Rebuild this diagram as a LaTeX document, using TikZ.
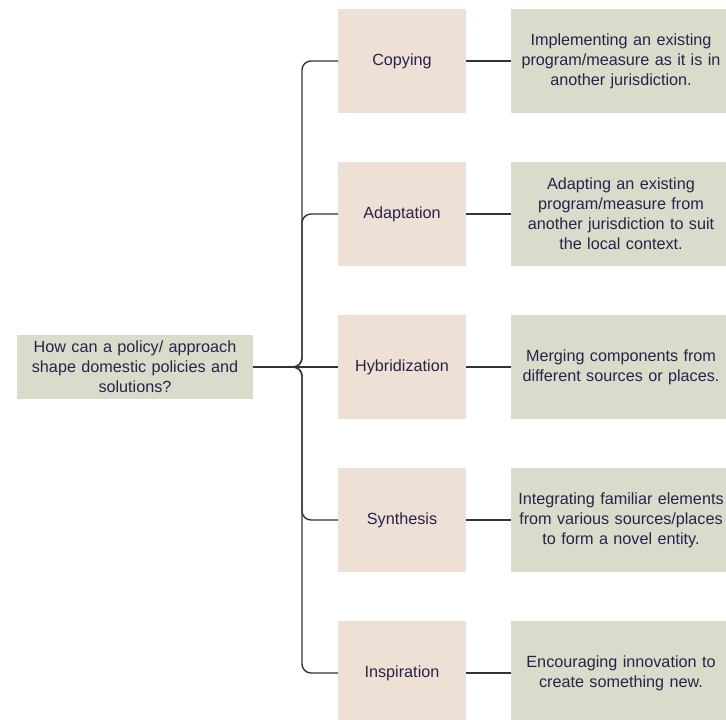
\documentclass[tikz,border=0pt]{standalone}
\usepackage{fontspec}
\setmainfont{Liberation Sans}
\definecolor{methodfill}{HTML}{EFE0D6}
\definecolor{notefill}{HTML}{DBDBCB}
\definecolor{inktext}{HTML}{25244A}
\definecolor{linkgray}{HTML}{333333}
\begin{document}
\begin{tikzpicture}[x=1pt,y=-1pt,
  base/.style={inner sep=0pt, outer sep=0pt, align=center, text=inktext,
    font=\fontsize{16.2}{20}\selectfont},
  rootbox/.style={base, fill=notefill, minimum width=236pt, minimum height=64pt, text width=232pt},
  methodbox/.style={base, fill=methodfill, minimum width=128pt, minimum height=104pt, text width=124pt},
  notebox/.style={base, fill=notefill, minimum width=220pt, minimum height=104pt, text width=216pt},
  link/.style={draw=linkgray, line width=1.4pt, rounded corners=9pt}]
\useasboundingbox (0,0) rectangle (726,720);
\clip (0,0) rectangle (726,720);

\node[rootbox] (root) at (135,367) {How can a policy/ approach\\shape domestic policies and\\solutions?};

\node[methodbox] (copy) at (402,61)  {Copying};
\node[methodbox] (adapt) at (402,214) {Adaptation};
\node[methodbox] (hybrid) at (402,367) {Hybridization};
\node[methodbox] (synth) at (402,520) {Synthesis};
\node[methodbox] (insp) at (402,673) {Inspiration};

\node[notebox] (ncopy) at (621,61)  {Implementing an existing\\program/measure as it is in\\another jurisdiction.};
\node[notebox] (nadapt) at (621,214) {Adapting an existing\\program/measure from\\another jurisdiction to suit\\the local context.};
\node[notebox] (nhybrid) at (621,367) {Merging components from\\different sources or places.};
\node[notebox] (nsynth) at (621,520) {Integrating familiar elements\\from various sources/places\\to form a novel entity.};
\node[notebox] (ninsp) at (621,673) {Encouraging innovation to\\create something new.};

% tree trunk and branches from the question
\coordinate (trunk) at (302,367);
\foreach \m in {copy,adapt,synth,insp}{
  \draw[link] (root.east) -- (trunk) |- (\m.west);
}
\draw[link] (root.east) -- (hybrid.west);

% each method to its description
\foreach \m/\n in {copy/ncopy,adapt/nadapt,hybrid/nhybrid,synth/nsynth,insp/ninsp}{
  \draw[link] (\m.east) -- (\n.west);
}
\end{tikzpicture}
\end{document}
